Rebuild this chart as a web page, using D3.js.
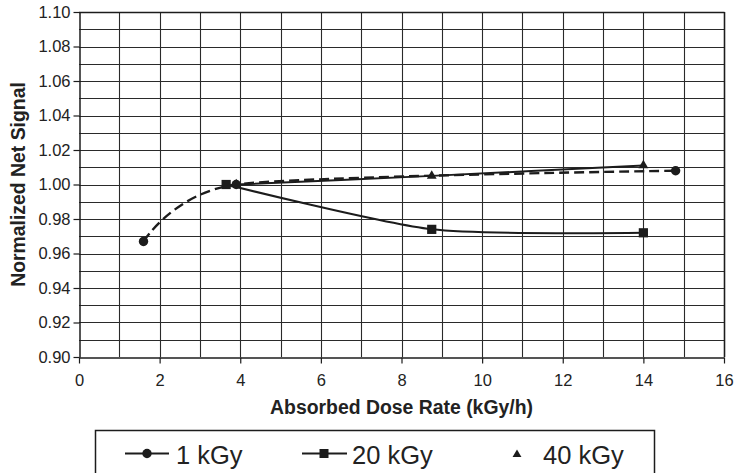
<!DOCTYPE html>
<html>
<head>
<meta charset="utf-8">
<script src="https://cdn.jsdelivr.net/npm/d3@7"></script>
<style>
  html, body { margin: 0; padding: 0; background: #fff; }
  svg { display: block; }
  text { font-family: "Liberation Sans", Arial, sans-serif; fill: #222; }
</style>
</head>
<body>
<svg id="chart" width="736" height="473"></svg>
<script>
// Dose rate (kGy/h) and normalized net signal for each absorbed dose
const series1kGyX = [1.6, 3.9, 14.8];
const series1kGyY = [0.967, 1.000, 1.008];
const series20kGyX = [3.65, 8.75, 14.0];
const series20kGyY = [1.000, 0.974, 0.972];
const series40kGyX = [3.9, 8.75, 14.0];
const series40kGyY = [1.000, 1.005, 1.011];

const seriesNames = ["1 kGy", "20 kGy", "40 kGy"];
const xTicks = [0, 2, 4, 6, 8, 10, 12, 14, 16];
const yTicks = [0.90, 0.92, 0.94, 0.96, 0.98, 1.00, 1.02, 1.04, 1.06, 1.08, 1.10];

const svg = d3.select("#chart");
const x = d3.scaleLinear().domain([0, 16]).range([79, 724]);
const y = d3.scaleLinear().domain([0.90, 1.10]).range([357, 12]);

const ink = "#1c1c1c";
const font = "'Liberation Sans', Arial, sans-serif";

// grid: one line per unit on x, one per 0.01 on y
svg.append("g").selectAll("line").data(d3.range(1, 17)).join("line")
  .attr("x1", d => Math.round(x(d)) + 0.5).attr("x2", d => Math.round(x(d)) + 0.5)
  .attr("y1", y(1.10)).attr("y2", y(0.90))
  .attr("stroke", "#2a2a2a").attr("stroke-width", 1.1);
svg.append("g").selectAll("line").data(d3.range(1, 21).map(i => 0.90 + i * 0.01)).join("line")
  .attr("x1", x(0)).attr("x2", x(16))
  .attr("y1", d => Math.round(y(d)) + 0.5).attr("y2", d => Math.round(y(d)) + 0.5)
  .attr("stroke", "#2a2a2a").attr("stroke-width", 1.1);

// axes
const xAxis = d3.axisBottom(x).tickValues(xTicks).tickFormat(d3.format("d"))
  .tickSizeInner(6).tickSizeOuter(0);
const yAxis = d3.axisLeft(y).tickValues(yTicks).tickFormat(d3.format(".2f"))
  .tickSizeInner(6).tickSizeOuter(0).tickPadding(3);

const gx = svg.append("g").attr("transform", `translate(0,${Math.round(y(0.90)) + 0.5})`).call(xAxis);
const gy = svg.append("g").attr("transform", `translate(${Math.round(x(0)) + 0.5},0)`).call(yAxis);
[gx, gy].forEach(g => {
  g.select(".domain").attr("stroke", ink).attr("stroke-width", 1.5);
  g.selectAll(".tick line").attr("stroke", ink).attr("stroke-width", 1.2);
  g.selectAll(".tick text").style("font-size", "16.5px").style("font-family", font).attr("fill", "#222");
});
gx.selectAll(".tick text").attr("y", 28.5).attr("dy", 0);

// top and right border of the plot area
svg.append("line").attr("x1", x(0)).attr("x2", Math.round(x(16)) + 0.5)
  .attr("y1", Math.round(y(1.10)) + 0.5).attr("y2", Math.round(y(1.10)) + 0.5)
  .attr("stroke", ink).attr("stroke-width", 1.5);
svg.append("line").attr("x1", Math.round(x(16)) + 0.5).attr("x2", Math.round(x(16)) + 0.5)
  .attr("y1", y(1.10)).attr("y2", y(0.90))
  .attr("stroke", ink).attr("stroke-width", 1.5);

// axis titles
svg.append("text")
  .attr("x", (x(0) + x(16)) / 2).attr("y", 414)
  .attr("text-anchor", "middle")
  .style("font-size", "19.4px").style("font-weight", "bold")
  .text("Absorbed Dose Rate (kGy/h)");
svg.append("text")
  .attr("transform", `translate(25,${(y(0.90) + y(1.10)) / 2}) rotate(-90)`)
  .attr("text-anchor", "middle")
  .style("font-size", "19.4px").style("font-weight", "bold")
  .text("Normalized Net Signal");

// smoothed series lines
const line = d3.line().x(d => x(d[0])).y(d => y(d[1])).curve(d3.curveCardinal.tension(0.3));
const pts1 = series1kGyX.map((v, i) => [v, series1kGyY[i]]);
const pts20 = series20kGyX.map((v, i) => [v, series20kGyY[i]]);
const pts40 = series40kGyX.map((v, i) => [v, series40kGyY[i]]);

const lines = svg.append("g").attr("fill", "none").attr("stroke", ink);
lines.append("path").attr("d", line(pts40)).attr("stroke-width", 2);
lines.append("path").attr("d", line(pts20)).attr("stroke-width", 2);
lines.append("path").attr("d", line(pts1)).attr("stroke-width", 2.4).attr("stroke-dasharray", "10,5");

// markers
const marks = svg.append("g").attr("fill", ink);
marks.selectAll("path").data(pts40).join("path")
  .attr("transform", d => `translate(${x(d[0])},${y(d[1])})`)
  .attr("d", d3.symbol(d3.symbolTriangle, 42)());
marks.selectAll("rect").data(pts20).join("rect")
  .attr("x", d => x(d[0]) - 4.6).attr("y", d => y(d[1]) - 4.6)
  .attr("width", 9.2).attr("height", 9.2);
marks.selectAll("circle").data(pts1).join("circle")
  .attr("cx", d => x(d[0])).attr("cy", d => y(d[1])).attr("r", 4.7);

// legend
const lg = svg.append("g");
lg.append("rect").attr("x", 95.5).attr("y", 430.5).attr("width", 559).attr("height", 60)
  .attr("fill", "#fff").attr("stroke", ink).attr("stroke-width", 1.5);
const ly = 453.5;
const legendFont = "25.5px";
lg.append("line").attr("x1", 125).attr("x2", 169).attr("y1", ly).attr("y2", ly).attr("stroke", ink).attr("stroke-width", 2.2);
lg.append("circle").attr("cx", 147).attr("cy", ly).attr("r", 4.7).attr("fill", ink);
lg.append("text").attr("x", 176).attr("y", 464).style("font-size", legendFont).text(seriesNames[0]);

lg.append("line").attr("x1", 302).attr("x2", 347).attr("y1", ly).attr("y2", ly).attr("stroke", ink).attr("stroke-width", 2.2);
lg.append("rect").attr("x", 319.5).attr("y", ly - 4.5).attr("width", 9).attr("height", 9).attr("fill", ink);
lg.append("text").attr("x", 352).attr("y", 464).style("font-size", legendFont).text(seriesNames[1]);

lg.append("path").attr("transform", `translate(517,${ly + 1})`).attr("d", d3.symbol(d3.symbolTriangle, 34)()).attr("fill", ink);
lg.append("text").attr("x", 543).attr("y", 464).style("font-size", legendFont).text(seriesNames[2]);
</script>
</body>
</html>
